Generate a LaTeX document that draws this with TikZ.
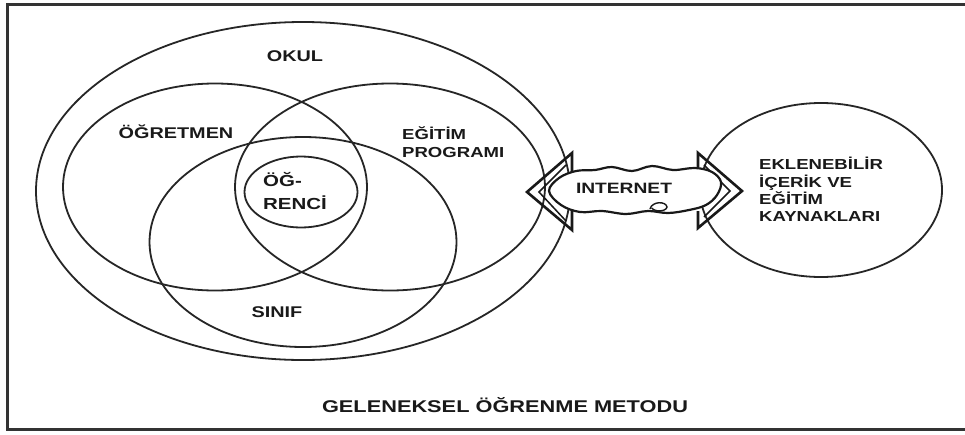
\documentclass[tikz,border=0pt]{standalone}
\usepackage{fontspec}
\setmainfont{Liberation Sans}[FakeStretch=1.28]
\usetikzlibrary{shapes.geometric}
\newcommand\fsz[2]{\fontsize{#1}{#2}\selectfont\bfseries}
\tikzset{
  ring/.style={ellipse, draw=black!85, line width=1.8pt, inner sep=0pt},
  lbl/.style={inner sep=0pt, text=black!90},
  arrowline/.style={draw=black!90, line width=2.6pt, line join=miter},
}
\begin{document}
\begin{tikzpicture}[x=1pt, y=-1pt]
\useasboundingbox (0,0) rectangle (965,434);
\fill[white] (0,0) rectangle (965,434);
% frame
\draw[black!80, line width=3pt] (7,4) rectangle (975,429);

% Venn ellipses
\node[ring, minimum width=534pt, minimum height=338pt] (okul) at (303,191) {};
\node[ring, minimum width=304pt, minimum height=207pt] (ogretmen) at (215,187) {};
\node[ring, minimum width=310pt, minimum height=207pt] (egitim) at (390,187) {};
\node[ring, minimum width=307pt, minimum height=210pt] (sinif) at (303,242) {};
\node[ring, minimum width=113pt, minimum height=71pt] (ogrenci) at (301,192) {};
% right ellipse
\node[ring, minimum width=242pt, minimum height=174pt] (kaynak) at (821,190) {};

% INTERNET double arrow
\coordinate (lb1) at (572,153);
\coordinate (ltip) at (527,192);
\coordinate (lb2) at (572,230);
\coordinate (rb1) at (698,153);
\coordinate (rtip) at (742,191);
\coordinate (rb2) at (698,228);
\draw[arrowline] (572,172) -- (lb1) -- (ltip) -- (lb2) -- (572,211);
\draw[arrowline] (698,172) -- (rb1) -- (rtip) -- (rb2) -- (698,211);
\draw[black!90, line width=1.5pt] (566,165) -- (539,192) -- (566,221);
\draw[black!90, line width=1.5pt] (704,165) -- (730,191) -- (704,217);
\draw[black!90, line width=2.2pt, fill=white] plot[smooth cycle, tension=0.6] coordinates {
  (549,191) (559,178) (576,171) (595,170) (612,167) (632,171) (652,166)
  (673,170) (695,168) (712,172) (721,182) (717,195) (706,205) (689,210)
  (668,213) (648,211) (626,214) (602,211) (580,212) (561,205)};
\draw[black!90, line width=1.4pt] (650,209) .. controls (652,201) and (666,201) .. (667,207) .. controls (666,212) and (654,212) .. (652,208);

% labels
\node[lbl, font=\fsz{15.5}{18}] (tokul) at (295,56) {OKUL};
\node[lbl, font=\fsz{15.5}{18}] (togretmen) at (176,132) {ÖĞRETMEN};
\node[lbl, font=\fsz{14.5}{18}, align=left, anchor=west] (tegitim) at (402,142) {EĞİTİM\\PROGRAMI};
\node[lbl, font=\fsz{16}{23}, align=left, anchor=west] (togrenci) at (263,191.5) {ÖĞ-\\RENCİ};
\node[lbl, font=\fsz{15.5}{18}] (tsinif) at (277,312) {SINIF};
\node[lbl, font=\fsz{15}{18}] (tinternet) at (624,188) {INTERNET};
\node[lbl, font=\fsz{14.5}{17.4}, align=left, anchor=west] (tkaynak) at (759,189.5) {EKLENEBİLİR\\İÇERİK VE\\EĞİTİM\\KAYNAKLARI};
\node[lbl, font=\fsz{17}{20}] (tbaslik) at (505,405) {GELENEKSEL ÖĞRENME METODU};
\end{tikzpicture}
\end{document}
